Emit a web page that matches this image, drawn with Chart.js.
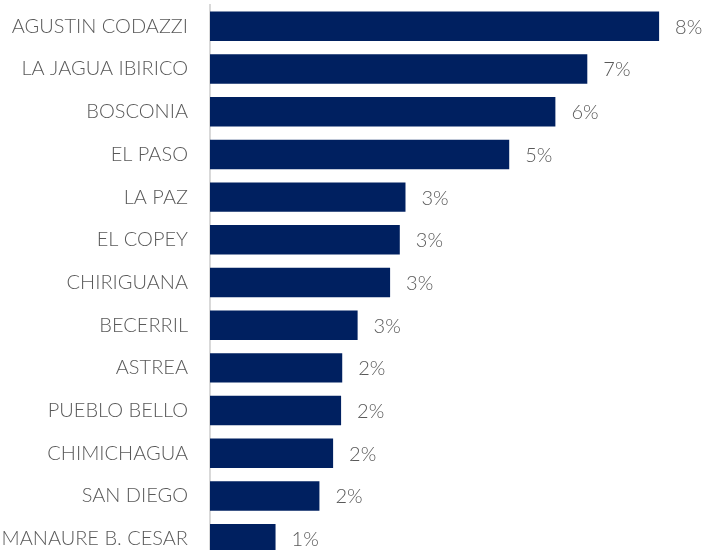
<!DOCTYPE html>
<html>
<head>
<meta charset="utf-8">
<script src="https://cdn.jsdelivr.net/npm/chart.js@4.4.0/dist/chart.umd.min.js"></script>
<style>
  html, body { margin: 0; padding: 0; background: #fff; overflow: hidden; }
  #wrap { width: 703px; height: 560px; position: relative; }
</style>
</head>
<body>
<div id="wrap"><canvas id="chart"></canvas></div>
<script>
// Municipios y participación (%)
const municipios = [
  'AGUSTIN CODAZZI', 'LA JAGUA IBIRICO', 'BOSCONIA', 'EL PASO', 'LA PAZ',
  'EL COPEY', 'CHIRIGUANA', 'BECERRIL', 'ASTREA', 'PUEBLO BELLO',
  'CHIMICHAGUA', 'SAN DIEGO', 'MANAURE B. CESAR'
];
const participacion = [7.88, 6.62, 6.06, 5.25, 3.43, 3.33, 3.16, 2.59, 2.32, 2.30, 2.16, 1.92, 1.15];
const xMax = 8.65;

const FONT = "'Lato', 'Open Sans', sans-serif";
const TEXT_COLOR = '#595959';

// value labels at the end of each bar
const valueLabels = {
  id: 'valueLabels',
  afterDatasetsDraw(chart) {
    const ctx = chart.ctx;
    const meta = chart.getDatasetMeta(0);
    ctx.save();
    ctx.font = `300 20px ${FONT}`;
    ctx.fillStyle = TEXT_COLOR;
    ctx.textAlign = 'left';
    ctx.textBaseline = 'middle';
    meta.data.forEach((bar, i) => {
      const v = chart.data.datasets[0].data[i];
      ctx.fillText(Math.round(v) + '%', bar.x + 16, bar.y + 1);
    });
    ctx.restore();
  }
};

new Chart(document.getElementById('chart'), {
  type: 'bar',
  data: {
    labels: municipios,
    datasets: [{
      data: participacion,
      backgroundColor: '#002060',
      borderWidth: 0,
      barPercentage: 0.69,
      categoryPercentage: 1.0
    }]
  },
  options: {
    indexAxis: 'y',
    responsive: true,
    maintainAspectRatio: false,
    animation: false,
    layout: { padding: { top: 5, right: 0, bottom: 0, left: 0 } },
    plugins: { legend: { display: false }, tooltip: { enabled: false } },
    scales: {
      x: { display: false, min: 0, max: xMax },
      y: {
        afterFit: (scale) => {
          scale.width = 210;
          scale.paddingTop = 0;
          scale.paddingBottom = 0;
        },
        grid: { display: false, drawTicks: false },
        border: { display: true, color: '#d9d9d9', width: 2 },
        ticks: {
          padding: 22,
          color: TEXT_COLOR,
          font: { family: FONT, size: 20, weight: 300 }
        }
      }
    }
  },
  plugins: [valueLabels]
});
</script>
</body>
</html>
